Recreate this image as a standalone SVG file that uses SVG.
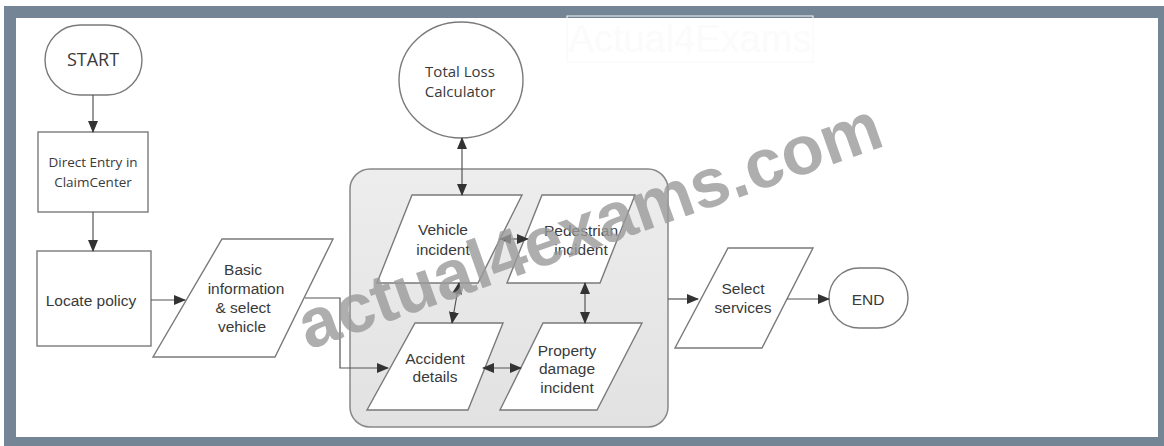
<svg xmlns="http://www.w3.org/2000/svg" width="1164" height="446" viewBox="0 0 1164 446">
<defs>
<marker id="ah" markerWidth="12" markerHeight="10" refX="11" refY="5" orient="auto" markerUnits="userSpaceOnUse">
<path d="M0,0 L12,5 L0,10 Z" fill="#333"/>
</marker>
<marker id="as" markerWidth="12" markerHeight="10" refX="1" refY="5" orient="auto" markerUnits="userSpaceOnUse">
<path d="M12,0 L0,5 L12,10 Z" fill="#333"/>
</marker>
<linearGradient id="gg" x1="0" y1="0" x2="0" y2="1">
<stop offset="0" stop-color="#ededed"/>
<stop offset="1" stop-color="#e2e2e2"/>
</linearGradient>
</defs>
<style>
.sh{fill:#fff;stroke:#7a7a7a;stroke-width:1.4}
.ln{fill:none;stroke:#555;stroke-width:1.2}
.t1{font-family:"Open Sans","DejaVu Sans",sans-serif;fill:#3a3a3a;text-anchor:middle}
.t2{font-family:"Liberation Sans",Arial,sans-serif;fill:#3a3a3a;text-anchor:middle;font-size:15.5px}
</style>
<rect x="0" y="0" width="1164" height="446" fill="#fff"/>
<rect x="4" y="6" width="1160" height="440" fill="#748595"/>
<rect x="16" y="18" width="1142" height="419" fill="#fff"/>
<rect x="567" y="16" width="246" height="46" fill="none" stroke="#f8f8f8" stroke-width="1"/>
<text x="690" y="52" font-family="Liberation Sans,Arial,sans-serif" font-size="38" fill="#fbfbfb" text-anchor="middle">Actual4Exams</text>

<g id="group">
<rect x="350" y="169" width="318" height="258" rx="20" fill="url(#gg)" stroke="#888" stroke-width="1.5"/>
</g>

<g id="start">
<rect class="sh" x="45" y="25" width="97" height="70" rx="35"/>
<text class="t1" x="93" y="66" font-size="18">START</text>
</g>
<g id="direct">
<rect class="sh" x="38" y="132" width="110" height="80"/>
<text class="t1" x="93" y="167" font-size="13.5">Direct Entry in</text>
<text class="t1" x="93" y="187" font-size="13.5">ClaimCenter</text>
</g>
<g id="locate">
<rect class="sh" x="37" y="251" width="114" height="95"/>
<text class="t2" x="91" y="306">Locate policy</text>
</g>
<g id="basic">
<polygon class="sh" points="222,239 333,239 275,357 153,357"/>
<text class="t2" x="243" y="275">Basic</text>
<text class="t2" x="246" y="294">information</text>
<text class="t2" x="243" y="313">&amp; select</text>
<text class="t2" x="242" y="332">vehicle</text>
</g>
<g id="total">
<ellipse class="sh" cx="461" cy="80" rx="62" ry="58"/>
<text class="t1" x="460" y="77" font-size="15">Total Loss</text>
<text class="t1" x="460" y="97" font-size="15">Calculator</text>
</g>
<g id="vehicle">
<polygon class="sh" points="412,195 522,195 478,283 377,283"/>
<text class="t2" x="443" y="235">Vehicle</text>
<text class="t2" x="443" y="255">incident</text>
</g>
<g id="pedestrian">
<polygon class="sh" points="542,195 635,195 600,283 507,283"/>
<text class="t2" x="581" y="236">Pedestrian</text>
<text class="t2" x="581" y="255">incident</text>
</g>
<g id="accident">
<polygon class="sh" points="415,323 503,323 468,410 367,410"/>
<text class="t2" x="435" y="364">Accident</text>
<text class="t2" x="435" y="382">details</text>
</g>
<g id="property">
<polygon class="sh" points="543,323 642,323 597,410 500,410"/>
<text class="t2" x="567" y="356">Property</text>
<text class="t2" x="567" y="374">damage</text>
<text class="t2" x="567" y="393">incident</text>
</g>
<g id="select">
<polygon class="sh" points="728,248 813,248 762,348 675,348"/>
<text class="t2" x="743" y="294">Select</text>
<text class="t2" x="743" y="313">services</text>
</g>
<g id="end">
<rect class="sh" x="829" y="268" width="79" height="60" rx="30"/>
<text class="t2" x="868" y="305" font-size="16">END</text>
</g>

<g id="connectors">
<line class="ln" x1="93" y1="95" x2="93" y2="132" marker-end="url(#ah)"/>
<line class="ln" x1="93" y1="212" x2="93" y2="251" marker-end="url(#ah)"/>
<line class="ln" x1="151" y1="300" x2="185" y2="300" marker-end="url(#ah)"/>
<polyline class="ln" points="305,298 340,298 340,368 388,368" marker-end="url(#ah)"/>
<line class="ln" x1="462" y1="138" x2="462" y2="195" marker-start="url(#as)" marker-end="url(#ah)"/>
<line class="ln" x1="500" y1="239" x2="528" y2="239" marker-start="url(#as)" marker-end="url(#ah)"/>
<line class="ln" x1="459" y1="283" x2="452" y2="323" marker-start="url(#as)" marker-end="url(#ah)"/>
<line class="ln" x1="585" y1="283" x2="585" y2="323" marker-start="url(#as)" marker-end="url(#ah)"/>
<line class="ln" x1="483" y1="368" x2="521" y2="368" marker-start="url(#as)" marker-end="url(#ah)"/>
<line class="ln" x1="668" y1="299" x2="698" y2="299" marker-end="url(#ah)"/>
<line class="ln" x1="787" y1="299" x2="829" y2="299" marker-end="url(#ah)"/>
</g>

<text x="308" y="350" transform="rotate(-19.5 308 350)" font-family="Liberation Sans,Arial,sans-serif" font-weight="bold" font-size="69" fill="#9a9a9a" fill-opacity="0.8">actual4exams.com</text>
</svg>
